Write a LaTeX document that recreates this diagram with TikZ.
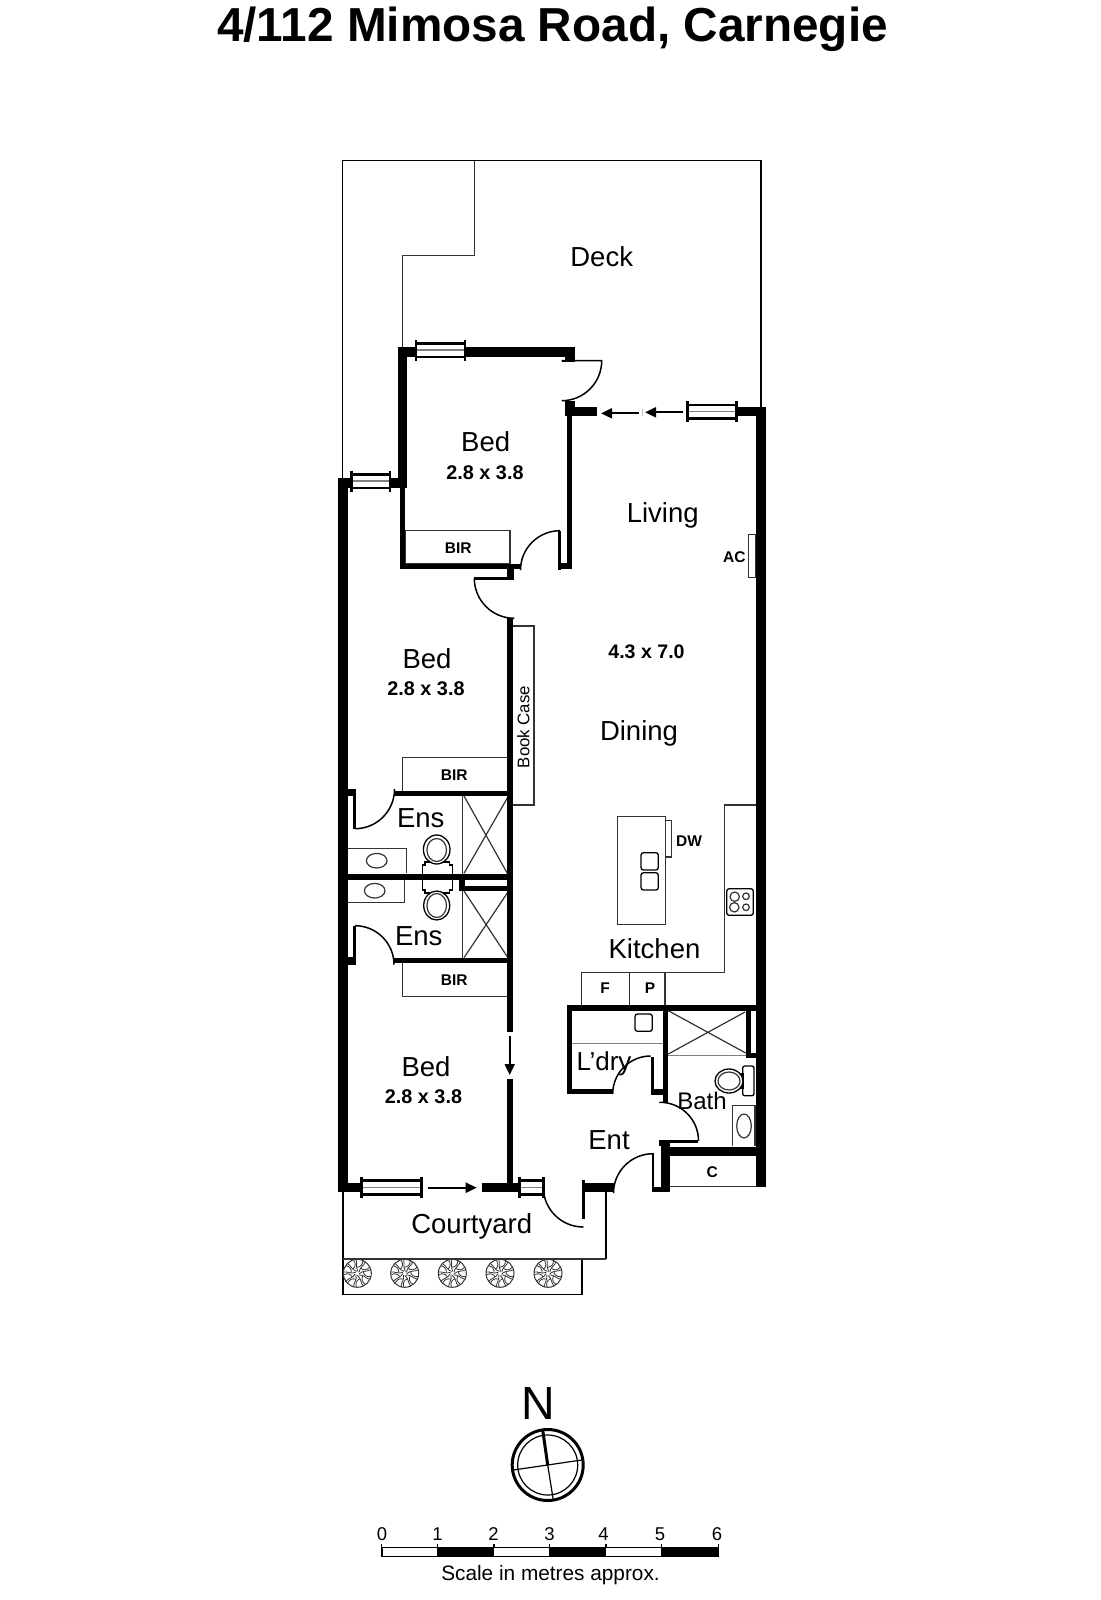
\documentclass[tikz,border=0pt]{standalone}
\usepackage{fontspec}
\setmainfont{Liberation Sans}
\usetikzlibrary{arrows.meta}
\definecolor{thinc}{HTML}{333333}
\newcommand{\fs}[1]{\fontsize{#1}{#1}\selectfont}
\tikzset{
  wall/.style={fill=black,draw=none},
  thinl/.style={draw=thinc,line width=1.2pt},
  thinb/.style={draw=black,line width=1.3pt},
  doorarc/.style={draw=black,line width=1.5pt},
  fix/.style={draw=black,line width=1.3pt,fill=white},
  room/.style={font=\fs{27.5},inner sep=0pt,text=black},
  dim/.style={font=\bfseries\fs{19.8},inner sep=0pt},
  lab/.style={font=\bfseries\fs{15.5},inner sep=0pt},
  arr/.style={line width=2pt,-{Triangle[length=11pt,width=10pt]}},
  railw/.style={draw=black,line width=2.6pt},
}
% horizontal window: x1, x2, centre y
\newcommand{\hwin}[3]{%
  \draw[railw] (#1,#3-6.8) -- (#2,#3-6.8);
  \draw[railw] (#1,#3+6.8) -- (#2,#3+6.8);
  \draw[thinl,draw=gray] (#1,#3) -- (#2,#3);
  \draw[railw] (#1,#3-10.5) -- (#1,#3+10.5);
  \draw[railw] (#2,#3-10.5) -- (#2,#3+10.5);
}
% shrub
\newcommand{\shrub}[2]{%
  \begin{scope}[shift={(#1,#2)}]
    \draw[draw=thinc,line width=1pt] (0,0) circle (14);
    \foreach \a in {0,40,...,320}{
      \draw[draw=thinc,line width=.8pt,rotate=\a] (0,2) .. controls (4,5) and (3,9) .. (6,13);
      \draw[draw=thinc,line width=.8pt,rotate=\a] (2.5,5.5) .. controls (-1,7) and (-2,10) .. (-1,13.5);
    }
  \end{scope}
}
\begin{document}
\begin{tikzpicture}[x=1pt,y=-1pt]
\useasboundingbox (0,0) rectangle (1100,1600);
\fill[white] (0,0) rectangle (1100,1600);

% title
\node[font=\bfseries\fs{47.7},inner sep=0pt,anchor=base] (title) at (552.5,41.5) {4/112 Mimosa Road, Carnegie};

% deck outline
\draw[draw=black,line width=1.6pt] (342.5,480) -- (342.5,160.5) -- (760.7,160.5) -- (760.7,408);
\draw[thinl] (474.3,160.5) -- (474.3,255.7) -- (402.3,255.7) -- (402.3,348);

% courtyard outline
\draw[draw=black,line width=1.6pt] (342.7,1190) -- (342.7,1294.3) -- (581.7,1294.3) -- (581.7,1259);
\draw[draw=black,line width=1.6pt] (605.7,1190) -- (605.7,1259);
\draw[draw=thinc,line width=1.8pt] (342.7,1259) -- (605.7,1259);
\foreach \x in {357.3,404.7,452.3,500,548}{\shrub{\x}{1273.3}}

% fixtures (below walls)
\draw[thinl] (405,530.7) rectangle (510,564);
\draw[thinl] (402.7,790.7) -- (402.7,757.3) -- (507.3,757.3);
\draw[thinl] (402.7,963) -- (402.7,996.3) -- (507.3,996.3);
\draw[thinl] (513.3,626) -- (534,626) -- (534,805) -- (513.3,805);
\draw[thinl] (748.7,534.3) rectangle (756,577.3);

% shower 1 and 2
\draw[thinl] (462.3,796) -- (462.3,874.3);
\draw[thinl] (464,796) -- (507.3,873.3) (464,873.3) -- (507.3,798);
\draw[thinl] (462.3,891) -- (462.3,957.7);
\draw[thinl] (464,891) -- (507.3,956.7) (464,957.7) -- (507.3,893);

% basins
\draw[thinl] (347.3,848.3) -- (406.7,848.3) -- (406.7,873.3);
\draw[thinl] (347.3,902.7) -- (404.7,902.7) -- (404.7,880);
\draw[thinl] (376.7,860.7) ellipse (10.3 and 7.3);
\draw[thinl] (374.7,890.7) ellipse (10.3 and 7.3);

% ensuite toilets
\draw[fix] (425,862) -- (449.7,862) -- (449.7,865) -- (452.3,865) -- (452.3,874.5) -- (422.3,874.5) -- (422.3,865) -- (425,865) -- cycle;
\draw[fix] (422.3,879.5) -- (452.3,879.5) -- (452.3,890) -- (449.7,890) -- (449.7,893) -- (425,893) -- (425,890) -- (422.3,890) -- cycle;
\draw[fix] (436.7,849.5) ellipse (13.3 and 14.5);
\draw[thinl] (436.7,850) ellipse (9.8 and 11.5);
\draw[fix] (436.7,905.5) ellipse (13 and 14.5);
\draw[thinl] (436.7,905.5) ellipse (9.8 and 12);

% kitchen
\draw[thinl] (756,805) -- (724.7,805) -- (724.7,972.3) -- (581.7,972.3) -- (581.7,1005.7);
\draw[thinl] (629.3,972.3) -- (629.3,1005.7) (665,972.3) -- (665,1005.7);
\draw[thinl] (617.3,816.7) rectangle (665.7,924.7);
\draw[thinl] (665.7,820.7) rectangle (671.3,857);
\draw[thinb,rounded corners=2.5pt] (641,852.7) rectangle (658.3,870);
\draw[thinb,rounded corners=2.5pt] (641,872.7) rectangle (658.3,890);
\draw[thinb,rounded corners=2.5pt] (726.7,888.7) rectangle (753.3,915.3);
\draw[thinl] (734.7,896.7) circle (4.7) (734.3,907.3) circle (4.7) (746,896.3) circle (3.3) (746,907.3) circle (3.3);

% laundry and bath fittings
\draw[draw=gray,line width=1.4pt] (572,1043.3) -- (662.7,1043.3);
\draw[thinb,rounded corners=2.5pt] (635,1014) rectangle (652.3,1031.3);
\draw[thinl] (668.3,1010.7) -- (745.7,1053) (668.3,1054) -- (745,1012);
\draw[draw=gray,line width=1.4pt] (668,1055.7) -- (756.7,1055.7);
\draw[fix,rounded corners=2pt] (742.7,1066) rectangle (754,1095.7);
\draw[fix] (735,1074) rectangle (743,1088);
\draw[fix] (729,1081) ellipse (14 and 12);
\draw[thinl] (729,1081) ellipse (11 and 9);
\draw[thinl] (732.7,1145.7) -- (732.7,1105.7) -- (755,1105.7) -- (755,1145.7);
\draw[thinl] (744,1126) ellipse (7.3 and 12);
\draw[thinl] (670,1186.7) -- (756,1186.7);

% walls
\path[wall] (397.7,346.7) rectangle (416,356.7);
\path[wall] (465,346.7) rectangle (574.7,356.7);
\path[wall] (397.7,346.7) rectangle (407.3,487.7);
\path[wall] (565,350) rectangle (574.7,361.7);
\path[wall] (561.7,359.5) rectangle (574.7,361.7);
\path[wall] (565,400.7) rectangle (574.7,416);
\path[wall] (565,406.7) rectangle (596.7,416);
\path[wall] (567,416) rectangle (572.3,569);
\path[wall] (558.3,563.3) rectangle (572.3,569);
\path[wall] (558.3,530.7) rectangle (561.3,570);
\path[wall] (736.7,406.7) rectangle (765.7,416);
\path[wall] (756,406.7) rectangle (765.7,1186.7);
\path[wall] (338.3,478.3) rectangle (347.5,1191.7);
\path[wall] (338.3,478.3) rectangle (352,487.7);
\path[wall] (390,478.3) rectangle (407.3,487.7);
\path[wall] (400,487.7) rectangle (405.3,569);
\path[wall] (400,564) rectangle (520,569);
\path[wall] (506.7,564) rectangle (514.3,580);
\path[wall] (474.3,577) rectangle (514.3,580);
\path[wall] (507.3,618.3) rectangle (513.3,1031.7);
\path[wall] (507,1079.3) rectangle (513.3,1190);
% ensuite walls
\path[wall] (395,790.7) rectangle (507.3,796);
\path[wall] (347.3,789.3) rectangle (356,796);
\path[wall] (353.3,789.3) rectangle (356,828.7);
\path[wall] (347.3,874.3) rectangle (507.3,879.7);
\path[wall] (459.3,874.3) rectangle (465,891);
\path[wall] (459.3,886) rectangle (507.3,891);
\path[wall] (394,957.7) rectangle (507.3,963);
\path[wall] (347.3,957.3) rectangle (356,965);
\path[wall] (353.3,925.7) rectangle (356,965);
% laundry / bath walls
\path[wall] (566.7,1005.3) rectangle (756.7,1010.7);
\path[wall] (566.7,1005.3) rectangle (572,1094.3);
\path[wall] (566.7,1089) rectangle (612.7,1094.3);
\path[wall] (651,1057.3) rectangle (654,1095);
\path[wall] (651,1089.3) rectangle (668.3,1095);
\path[wall] (662.7,1005.3) rectangle (668.3,1102.3);
\path[wall] (746,1005.3) rectangle (751.3,1058.3);
\path[wall] (746,1053.3) rectangle (756.7,1058.3);
\path[wall] (659,1140) rectangle (698.3,1142.7);
\path[wall] (659,1140) rectangle (668.3,1146);
\path[wall] (660.7,1142.7) rectangle (670,1192.3);
\path[wall] (668,1146.7) rectangle (756.7,1155.7);
\path[wall] (651.7,1153.3) rectangle (654.3,1192.3);
\path[wall] (651.7,1186.7) rectangle (670,1192.3);
% front walls
\path[wall] (338.3,1182.7) rectangle (361.7,1191.7);
\path[wall] (481.7,1182.7) rectangle (519.3,1192.3);
\path[wall] (582.3,1183.3) rectangle (614,1192.3);
\path[wall] (582.3,1180) rectangle (585,1219.3);

% windows
\hwin{416}{465}{350}
\hwin{351.7}{390}{481}
\hwin{687.3}{736.7}{411.7}
\hwin{361.7}{421.7}{1187.5}
\hwin{519.3}{543.3}{1187.5}

% door swings
\draw[doorarc] (561.7,360.7) -- (601.7,360.7) arc[start angle=0,end angle=90,radius=40];
\draw[doorarc] (560,530.7) arc[start angle=270,end angle=180,radius=39.5];
\draw[doorarc] (474.3,578.3) arc[start angle=180,end angle=90,radius=40];
\draw[doorarc] (355,828.7) arc[start angle=90,end angle=0,radius=39.5];
\draw[doorarc] (355,925.7) arc[start angle=270,end angle=360,radius=39];
\draw[doorarc] (612.7,1094) arc[start angle=180,end angle=270,radius=38];
\draw[doorarc] (659,1102.3) -- (668,1102.3);
\draw[doorarc] (660,1102.3) arc[start angle=270,end angle=360,radius=38.5];
\draw[doorarc] (653,1153.7) arc[start angle=270,end angle=180,radius=39.5];
\draw[doorarc] (543.3,1187) arc[start angle=180,end angle=90,radius=40];

% door arrows
\coordinate (a1s) at (682.7,412.3); \coordinate (a1e) at (645,412.3);
\coordinate (a2s) at (639,413.3);   \coordinate (a2e) at (601,413.3);
\coordinate (a3s) at (509.7,1036);  \coordinate (a3e) at (509.7,1075);
\coordinate (a4s) at (427.7,1187.7);\coordinate (a4e) at (476.7,1187.7);
\draw[arr] (a1s) -- (a1e);
\draw[arr] (a2s) -- (a2e);
\draw[arr] (a3s) -- (a3e);
\draw[arr] (a4s) -- (a4e);
\draw[draw=lightgray,line width=1pt] (642.7,408.5) -- (642.7,416);

% labels
\node[room] (deck) at (601.7,256.7) {Deck};
\node[room] (bed1) at (485.7,441.7) {Bed};
\node[dim] (dim1) at (485,472.3) {2.8 x 3.8};
\node[lab] (bir1) at (458.3,547.7) {BIR};
\node[room] (living) at (662.7,515) {Living};
\node[lab] (ac) at (734.3,556.7) {AC};
\node[dim,font=\bfseries\fs{19.6}] (dim4) at (646.5,652) {4.3 x 7.0};
\node[room] (dining) at (639,733.5) {Dining};
\node[room] (bed2) at (427,659) {Bed};
\node[dim] (dim2) at (426,689) {2.8 x 3.8};
\node[lab] (bir2) at (454.3,775) {BIR};
\node[font=\fs{16.8},inner sep=0pt,rotate=90] (book) at (523.3,727) {Book Case};
\node[room] (ens1) at (420.7,817.7) {Ens};
\node[room] (ens2) at (418.7,935.7) {Ens};
\node[lab] (bir3) at (454.3,979.7) {BIR};
\node[room] (bed3) at (426,1066.5) {Bed};
\node[dim] (dim3) at (423.5,1096.5) {2.8 x 3.8};
\node[lab] (dw) at (689,840.7) {DW};
\node[room] (kitchen) at (654.5,949) {Kitchen};
\node[lab] (f) at (605,988.3) {F};
\node[lab] (p) at (650,988.3) {P};
\node[font=\fs{26},inner sep=0pt] (ldry) at (604,1064) {L’dry};
\node[font=\fs{24},inner sep=0pt] (bath) at (702,1100.5) {Bath};
\node[room] (ent) at (609,1140) {Ent};
\node[lab] (c) at (712.3,1171.7) {C};
\node[room] (court) at (471.7,1226) {Courtyard};

% north point
\node[font=\fs{46.5},inner sep=0pt] (north) at (538.3,1403.3) {N};
\coordinate (cc) at (547.7,1465);
\draw[draw=black,line width=3pt] (cc) circle (35.5);
\draw[draw=black,line width=1.2pt] (cc) circle (30);
\draw[draw=black,line width=3pt] (542.7,1430) -- (cc);
\draw[draw=black,line width=1.2pt] (cc) -- (553.3,1500);
\draw[draw=black,line width=1.2pt] (513.3,1470) -- (581.7,1460);

% scale bar
\draw[draw=black,line width=1.8pt,fill=white] (381.7,1547.5) rectangle (718.3,1556.5);
\foreach \a/\b in {437.3/494,549.3/606,661.3/718.3}{\fill[black] (\a,1546.6) rectangle (\b,1557.4);}
\foreach \x in {381.7,437.3,494,549.3,606,661.3,718.3}{\draw[draw=black,line width=1.2pt] (\x,1544) -- (\x,1548);}
\foreach \x/\n in {382/0,437.5/1,493.5/2,549.5/3,603.5/4,660/5,717/6}{\node[font=\fs{18.5},inner sep=0pt,anchor=base] (s\n) at (\x,1540.5) {\n};}
\node[font=\fs{20.8},inner sep=0pt] (scaletext) at (550.5,1575) {Scale in metres approx.};
\end{tikzpicture}
\end{document}
